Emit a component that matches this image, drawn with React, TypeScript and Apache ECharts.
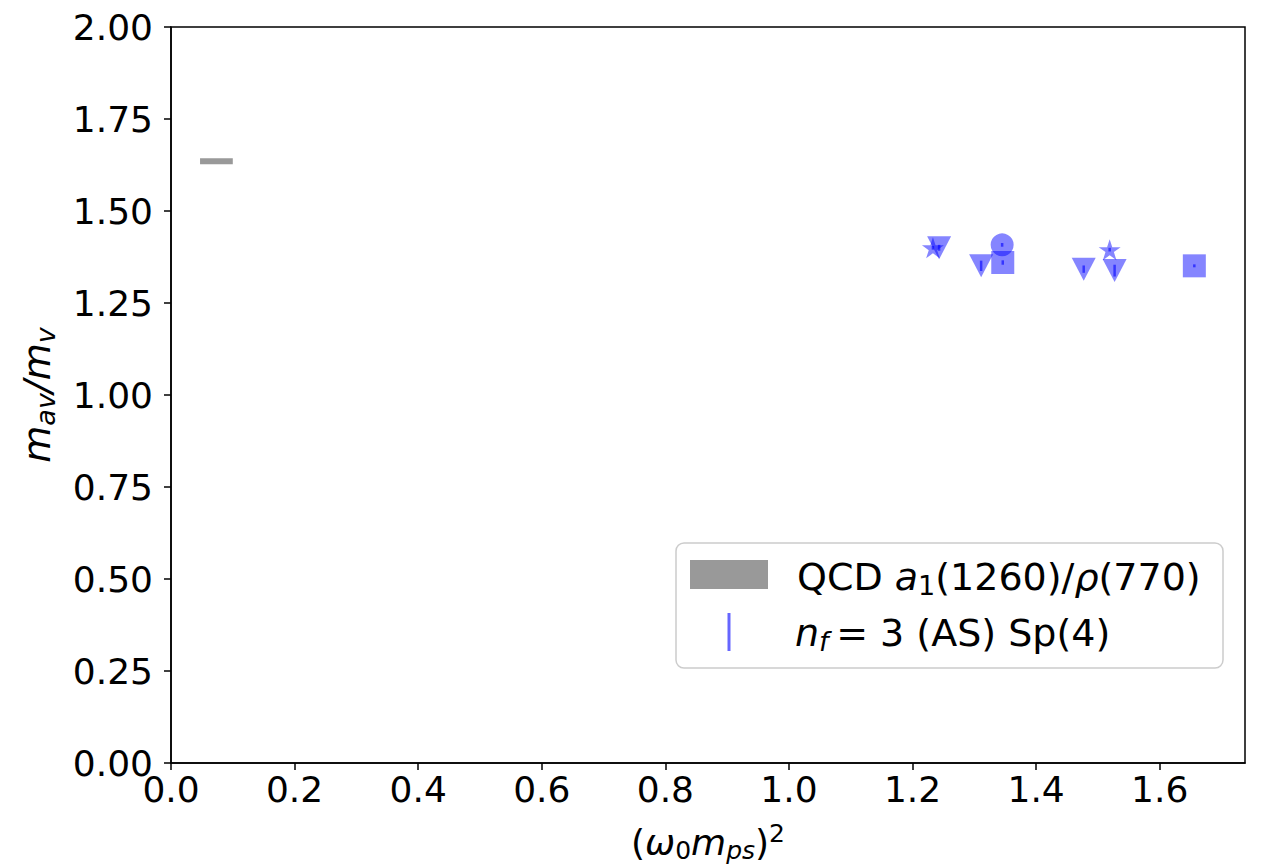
import React, { useEffect, useRef } from "react";
import * as echarts from "echarts";

// QCD reference band
const qcdX = [0.047, 0.1];
const qcdY = 1.635;

// Sp(4) nf=3 (AS) points
const triX = [1.243, 1.311, 1.477, 1.527];
const triY = [1.4, 1.351, 1.342, 1.338];
const triErr = [0.008, 0.014, 0.01, 0.016];

const starX = [1.233, 1.519];
const starY = [1.4, 1.395];
const starErr = [0.005, 0.005];

const circX = [1.345];
const circY = [1.408];
const circErr = [0.005];

const sqX = [1.346, 1.656];
const sqY = [1.36, 1.351];
const sqErr = [0.006, 0.004];

const BLUE = "rgba(0,0,255,0.6)";
const FONT = "DejaVu Sans";
const FS = 36;
const SUB = 25;

const STAR =
  "path://M0,-1L0.2245,-0.309L0.951,-0.309L0.363,0.118L0.588,0.809L0,0.382L-0.588,0.809L-0.363,0.118L-0.951,-0.309L-0.2245,-0.309Z";

function pts(xs: number[], ys: number[]) {
  return xs.map((x, i) => [x, ys[i]]);
}
function errs(xs: number[], ys: number[], es: number[]) {
  return xs.map((x, i) => [x, ys[i] - es[i], ys[i] + es[i]]);
}

function makeRich(fs: number, sub: number) {
  const down = Math.round(fs * 0.45);
  return {
    n: { fontFamily: FONT, fontSize: fs, color: "#000" },
    i: { fontFamily: FONT, fontSize: fs, fontStyle: "italic", color: "#000" },
    s: {
      fontFamily: FONT,
      fontSize: sub,
      fontStyle: "italic",
      color: "#000",
      padding: [down, 0, 0, 0],
    },
    s0: {
      fontFamily: FONT,
      fontSize: sub,
      color: "#000",
      padding: [down, 0, 0, 0],
    },
    p: {
      fontFamily: FONT,
      fontSize: sub,
      color: "#000",
      padding: [0, 0, down + 2, 0],
    },
  };
}

export default function App() {
  const ref = useRef<HTMLDivElement>(null);
  useEffect(() => {
    if (!ref.current) return;
    const chart = echarts.init(ref.current, undefined, { renderer: "svg" });
    const errData = [
      ...errs(triX, triY, triErr),
      ...errs(starX, starY, starErr),
      ...errs(circX, circY, circErr),
      ...errs(sqX, sqY, sqErr),
    ];
    const richAxis = makeRich(FS, SUB);
    const richY = makeRich(38, 27);
    const richLeg = makeRich(38, 27);
    chart.setOption({
      animation: false,
      grid: {
        left: 171,
        top: 27,
        right: 16,
        bottom: 104,
        show: true,
        borderColor: "#000",
        borderWidth: 1.5,
      },
      xAxis: {
        type: "value",
        min: 0,
        max: 1.738,
        interval: 0.2,
        splitLine: { show: false },
        axisLine: { onZero: false, lineStyle: { color: "#000", width: 1.5 } },
        axisTick: { show: true, length: 7, lineStyle: { color: "#000", width: 1.5 } },
        axisLabel: {
          fontFamily: FONT,
          fontSize: FS,
          color: "#000",
          margin: 8,
          showMaxLabel: false,
          formatter: (v: number) => v.toFixed(1),
        },
        name: "{n|(}{i|ω}{s0|0}{i|m}{s|ps}{n|)}{p|2}",
        nameLocation: "middle",
        nameGap: 58,
        nameTextStyle: { rich: richAxis },
      },
      yAxis: {
        type: "value",
        min: 0,
        max: 2,
        interval: 0.25,
        splitLine: { show: false },
        axisLine: { onZero: false, lineStyle: { color: "#000", width: 1.5 } },
        axisTick: { show: true, length: 7, lineStyle: { color: "#000", width: 1.5 } },
        axisLabel: {
          fontFamily: FONT,
          fontSize: FS,
          color: "#000",
          margin: 18,
          formatter: (v: number) => v.toFixed(2),
        },
        name: "{i|m}{s|av}{i|/m}{s|v}",
        nameLocation: "middle",
        nameGap: 112,
        nameTextStyle: { rich: richY },
      },
      series: [
        {
          type: "line",
          data: qcdX.map((x) => [x, qcdY]),
          symbol: "none",
          lineStyle: { color: "#999", width: 6, cap: "butt" },
        },
        {
          type: "scatter",
          data: pts(triX, triY),
          symbol: "triangle",
          symbolRotate: 180,
          symbolSize: [24, 23],
          itemStyle: { color: BLUE },
        },
        {
          type: "scatter",
          data: pts(starX, starY),
          symbol: STAR,
          symbolSize: [22, 21],
          itemStyle: { color: BLUE },
        },
        {
          type: "scatter",
          data: pts(circX, circY),
          symbol: "circle",
          symbolSize: 23,
          itemStyle: { color: BLUE },
        },
        {
          type: "scatter",
          data: pts(sqX, sqY),
          symbol: "rect",
          symbolSize: 23,
          itemStyle: { color: BLUE },
        },
        {
          type: "custom",
          data: errData,
          renderItem: (params: any, api: any) => {
            const x = api.value(0);
            const lo = api.coord([x, api.value(1)]);
            const hi = api.coord([x, api.value(2)]);
            return {
              type: "line",
              shape: { x1: lo[0], y1: lo[1], x2: hi[0], y2: hi[1] },
              style: { stroke: BLUE, lineWidth: 2.5 },
            };
          },
          z: 5,
        },
      ],
      graphic: [
        {
          type: "rect",
          shape: { x: 676, y: 543, width: 547, height: 125, r: 8 },
          style: { fill: "rgba(255,255,255,0.8)", stroke: "#cccccc", lineWidth: 1.5 },
          z: 10,
        },
        {
          type: "rect",
          shape: { x: 690, y: 560, width: 78, height: 29 },
          style: { fill: "#999999" },
          z: 11,
        },
        {
          type: "line",
          shape: { x1: 729, y1: 613, x2: 729, y2: 651 },
          style: { stroke: BLUE, lineWidth: 3 },
          z: 11,
        },
        {
          type: "text",
          x: 797,
          y: 577,
          z: 11,
          style: {
            text: "{n|QCD }{i|a}{s0|1}{n|(1260)/}{i|ρ}{n|(770)}",
            verticalAlign: "middle",
            rich: richLeg,
          },
        },
        {
          type: "text",
          x: 795,
          y: 633,
          z: 11,
          style: {
            text: "{i|n}{s|f}{n|\u2009= 3 (AS) Sp(4)}",
            verticalAlign: "middle",
            rich: richLeg,
          },
        },
      ],
    });
    return () => chart.dispose();
  }, []);
  return (
    <div
      ref={ref}
      style={{ position: "fixed", left: 0, top: 0, width: 1261, height: 868, background: "#fff" }}
    />
  );
}
